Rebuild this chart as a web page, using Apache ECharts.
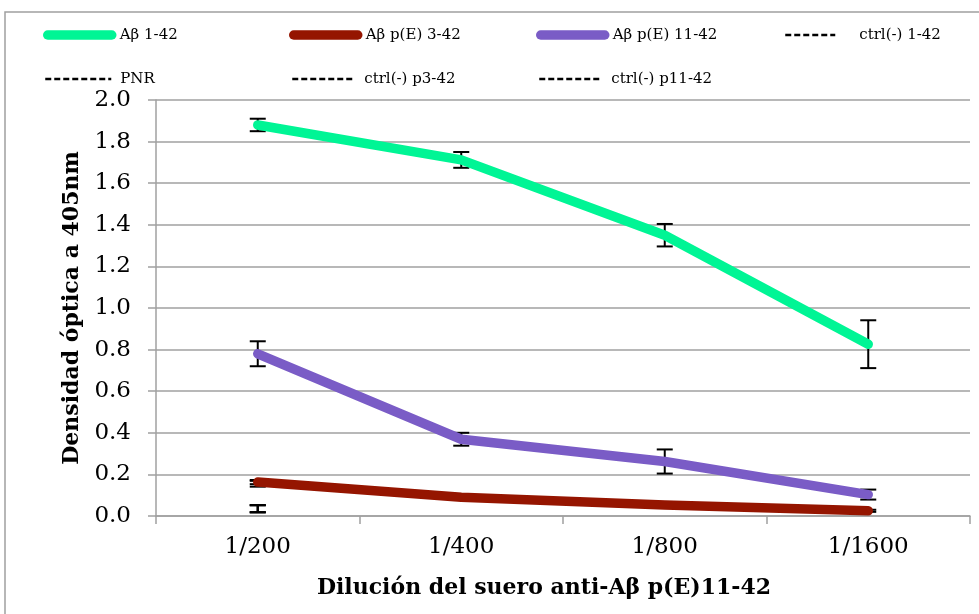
<!DOCTYPE html>
<html>
<head>
<meta charset="utf-8">
<script src="https://cdn.jsdelivr.net/npm/echarts@6/dist/echarts.min.js"></script>
<style>
  html, body { margin: 0; padding: 0; background: #fff; }
  #chart { width: 979px; height: 614px; }
</style>
</head>
<body>
<div id="chart"></div>
<script>
// categorias (diluciones)
var diluciones = ['1/200', '1/400', '1/800', '1/1600'];

// densidad optica a 405nm
var ab142 = [1.88, 1.712, 1.35, 0.826];
var ab142Err = [0.03, 0.038, 0.054, 0.115];
var abp342 = [0.163, 0.09, 0.053, 0.025];
var abp342Err = [0.01, 0.006, 0.006, 0.005];
var abp1142 = [0.78, 0.369, 0.262, 0.103];
var abp1142Err = [0.06, 0.031, 0.058, 0.024];

// controles: solo medidos a 1/200
var ctrl142 = [0.035, null, null, null];
var ctrl142Err = [0.017, null, null, null];
var pnr = [0.155, null, null, null];
var pnrErr = [0.014, null, null, null];
var ctrlp342 = [0.035, null, null, null];
var ctrlp342Err = [0.017, null, null, null];
var ctrlp1142 = [0.035, null, null, null];
var ctrlp1142Err = [0.017, null, null, null];

var yTicks = [0, 2, 0.2];

var FONT = 'DejaVu Serif';
var GREEN = '#00F595', RED = '#951500', PURPLE = '#7A5CC6';

// barras de error: [indice, valor, error]
function errData(vals, errs) {
	var out = [];
	for (var i = 0; i < vals.length; i++) {
		if (vals[i] == null || errs[i] == null) continue;
		out.push([i, vals[i], errs[i]]);
	}
	return out;
}

function renderErr(params, api) {
	var x = api.value(0), y = api.value(1), e = api.value(2);
	var hi = api.coord([x, y + e]);
	var lo = api.coord([x, y - e]);
	var w = 8;
	var st = { stroke: '#000', lineWidth: 2, fill: null };
	return {
		type: 'group',
		children: [
			{ type: 'line', shape: { x1: hi[0], y1: hi[1], x2: lo[0], y2: lo[1] }, style: st },
			{ type: 'line', shape: { x1: hi[0] - w, y1: hi[1], x2: hi[0] + w, y2: hi[1] }, style: st },
			{ type: 'line', shape: { x1: lo[0] - w, y1: lo[1], x2: lo[0] + w, y2: lo[1] }, style: st }
		]
	};
}

function lineSerie(name, data, color, dashed) {
	return {
		name: name,
		type: 'line',
		data: data,
		symbol: 'none',
		showSymbol: false,
		connectNulls: false,
		z: 3,
		itemStyle: { color: color },
		lineStyle: dashed
			? { color: color, width: 2.5, type: [7, 3] }
			: { color: color, width: 9.5, cap: 'round', join: 'round' }
	};
}

function errSerie(name, vals, errs) {
	return {
		name: name + ' err',
		type: 'custom',
		renderItem: renderErr,
		data: errData(vals, errs),
		encode: { x: 0, y: 1 },
		z: 2,
		silent: true
	};
}

function legendItem(name, left, top, w, dashed, pad) {
	return {
		data: [name],
		left: left,
		top: top,
		padding: 0,
		itemWidth: w,
		itemHeight: 14,
		itemGap: 0,
		itemStyle: { opacity: 0 },
		lineStyle: dashed
			? { width: 2.5, type: [6, 3] }
			: { width: 9.5, cap: 'round' },
		textStyle: {
			fontFamily: FONT, fontSize: 15, color: '#000', lineHeight: 18,
			padding: [0, 0, 0, pad || 0]
		}
	};
}

var chart = echarts.init(document.getElementById('chart'));

var option = {
	animation: false,
	backgroundColor: '#fff',
	graphic: [{
		type: 'rect',
		shape: { x: 5, y: 12, width: 1100, height: 800 },
		style: { fill: null, stroke: '#a0a0a0', lineWidth: 1.5 },
		silent: true
	}],
	legend: [
		legendItem('Aβ 1-42', 43, 26, 64, false, 3),
		legendItem('Aβ p(E) 3-42', 289, 26, 64, false, 3),
		legendItem('Aβ p(E) 11-42', 536, 26, 64, false, 3),
		legendItem('ctrl(-) 1-42', 784, 26, 50, true, 19),
		legendItem('PNR', 44, 70, 66, true, 4),
		legendItem('ctrl(-) p3-42', 291, 70, 63, true, 4),
		legendItem('ctrl(-) p11-42', 538, 70, 63, true, 4)
	],
	grid: {
		left: 156,
		right: 9,
		top: 100,
		bottom: 98,
		outerBoundsMode: 'none'
	},
	xAxis: {
		type: 'category',
		data: diluciones,
		boundaryGap: true,
		name: 'Dilución del suero anti-Aβ p(E)11-42',
		nameLocation: 'middle',
		nameGap: 61,
		nameTextStyle: {
			fontFamily: FONT, fontSize: 22, fontWeight: 'bold', color: '#000',
			padding: [0, 38, 0, 0]
		},
		axisLine: { lineStyle: { color: '#a0a0a0', width: 1.5 } },
		axisTick: { show: true, length: 8, lineStyle: { color: '#a0a0a0', width: 1.5 } },
		axisLabel: { fontFamily: FONT, fontSize: 23, color: '#000', margin: 20 },
		splitLine: { show: false }
	},
	yAxis: {
		type: 'value',
		min: yTicks[0],
		max: yTicks[1],
		interval: yTicks[2],
		name: 'Densidad óptica a 405nm',
		nameLocation: 'middle',
		nameGap: 73,
		nameTextStyle: { fontFamily: FONT, fontSize: 22, fontWeight: 'bold', color: '#000' },
		axisLine: { show: true, lineStyle: { color: '#a0a0a0', width: 1.5 } },
		axisTick: { show: true, length: 8, lineStyle: { color: '#a0a0a0', width: 1.5 } },
		axisLabel: {
			fontFamily: FONT, fontSize: 23, color: '#000', margin: 25,
			formatter: function (v) { return v.toFixed(1); }
		},
		splitLine: { show: true, lineStyle: { color: '#a0a0a0', width: 1.5 } }
	},
	series: [
		lineSerie('Aβ 1-42', ab142, GREEN, false),
		lineSerie('Aβ p(E) 3-42', abp342, RED, false),
		lineSerie('Aβ p(E) 11-42', abp1142, PURPLE, false),
		lineSerie('ctrl(-) 1-42', ctrl142, '#000', true),
		lineSerie('PNR', pnr, '#000', true),
		lineSerie('ctrl(-) p3-42', ctrlp342, '#000', true),
		lineSerie('ctrl(-) p11-42', ctrlp1142, '#000', true),
		errSerie('Aβ 1-42', ab142, ab142Err),
		errSerie('Aβ p(E) 3-42', abp342, abp342Err),
		errSerie('Aβ p(E) 11-42', abp1142, abp1142Err),
		errSerie('ctrl(-) 1-42', ctrl142, ctrl142Err),
		errSerie('PNR', pnr, pnrErr),
		errSerie('ctrl(-) p3-42', ctrlp342, ctrlp342Err),
		errSerie('ctrl(-) p11-42', ctrlp1142, ctrlp1142Err)
	]
};

chart.setOption(option);
</script>
</body>
</html>
